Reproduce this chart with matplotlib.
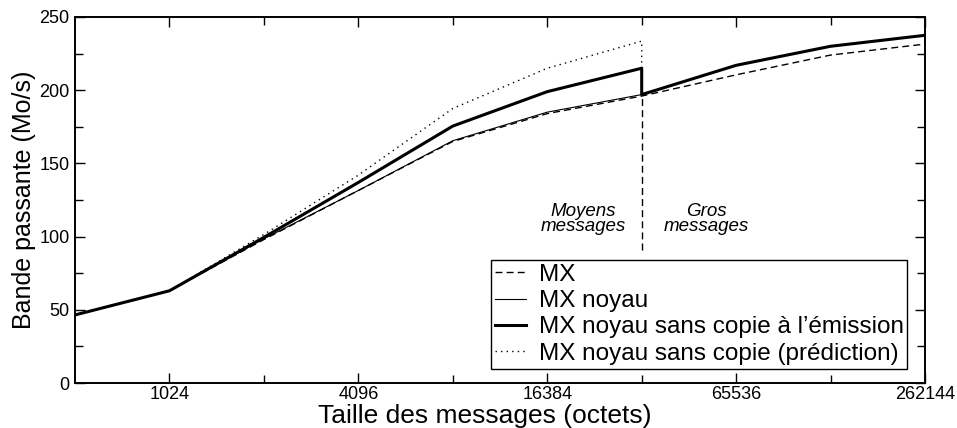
import matplotlib
matplotlib.use('Agg')
import matplotlib.pyplot as plt
from matplotlib.ticker import FixedLocator, NullFormatter, MultipleLocator

plt.rcParams['font.family'] = ['Liberation Sans', 'DejaVu Sans']

# tailles des messages (octets)
tailles = [512, 1024, 2048, 4096, 8192, 16384, 32768, 65536, 131072, 262144]
# MX
mx = [46.5, 63, 98, 131.5, 165, 184, 196, 210.5, 224, 231.5]
# MX noyau
mx_noyau = [46.5, 63, 98.5, 131.5, 165.5, 185, 197, 217, 230, 237.5]
# MX noyau sans copie a l'emission (saut a 32768)
tailles_sc = [512, 1024, 2048, 4096, 8192, 16384, 32768, 32768, 65536, 131072, 262144]
sans_copie = [46.5, 63, 99.5, 137, 175.5, 199, 215, 197, 217, 230, 237.5]
# prediction
tailles_pred = [512, 1024, 2048, 4096, 8192, 16384, 32768, 32768]
prediction = [46.5, 63, 101.5, 142, 187.5, 215, 233.5, 197]

xticks_maj = [1024, 4096, 16384, 65536, 262144]
xticks_min = [2048, 8192, 32768, 131072]
seuil = 32768

fig = plt.figure(figsize=(9.57, 4.28), dpi=100)
ax = fig.add_axes([0.0784, 0.1051, 0.8882, 0.8552])

ax.plot(tailles, mx, color='black', lw=1.0, ls=(0, (5, 3)), label='MX')
ax.plot(tailles, mx_noyau, color='black', lw=0.8, label='MX noyau')
ax.plot(tailles_sc, sans_copie, color='black', lw=2.2,
        label='MX noyau sans copie à l\u2019émission')
ax.plot(tailles_pred, prediction, color='black', lw=1.0, ls=(0, (1, 3)),
        label='MX noyau sans copie (prédiction)')

# separation moyens / gros messages
ax.plot([seuil, seuil], [91, 196], color='black', lw=1.0, ls=(0, (5, 3)))
ax.text(21400, 112, 'Moyens\nmessages', ha='center', va='center',
        fontsize=13.5, style='italic', linespacing=0.9)
ax.text(52500, 112, 'Gros\nmessages', ha='center', va='center',
        fontsize=13.5, style='italic', linespacing=0.9)

ax.set_xscale('log', base=2)
ax.set_xlim(512, 262144)
ax.set_ylim(0, 250)
ax.xaxis.set_major_locator(FixedLocator(xticks_maj))
ax.xaxis.set_minor_locator(FixedLocator(xticks_min))
ax.set_xticklabels([str(t) for t in xticks_maj])
ax.xaxis.set_minor_formatter(NullFormatter())
ax.yaxis.set_major_locator(MultipleLocator(50))
ax.yaxis.set_minor_locator(MultipleLocator(25))

ax.tick_params(which='both', direction='in', top=True, right=True,
               width=1.0, labelsize=13, pad=4)
ax.tick_params(axis='x', pad=2.5)
ax.tick_params(which='major', length=7)
ax.tick_params(which='minor', length=6)
for s in ax.spines.values():
    s.set_linewidth(1.4)

ax.set_xlabel('Taille des messages (octets)', fontsize=19)
ax.xaxis.set_label_coords(0.482, -0.058, transform=ax.transAxes)
ax.xaxis.label.set_va('top')
ax.set_ylabel('Bande passante (Mo/s)', fontsize=18, labelpad=2)

leg = ax.legend(loc='upper right', bbox_to_anchor=(0.979, 0.336),
                borderaxespad=0, fontsize=17.5, frameon=True, fancybox=False,
                handlelength=1.3, handletextpad=0.5, labelspacing=0.18,
                borderpad=0.15)
leg.get_frame().set_edgecolor('black')
leg.get_frame().set_linewidth(1.0)
leg.get_frame().set_alpha(1)

fig.savefig('out.png', dpi=100)
